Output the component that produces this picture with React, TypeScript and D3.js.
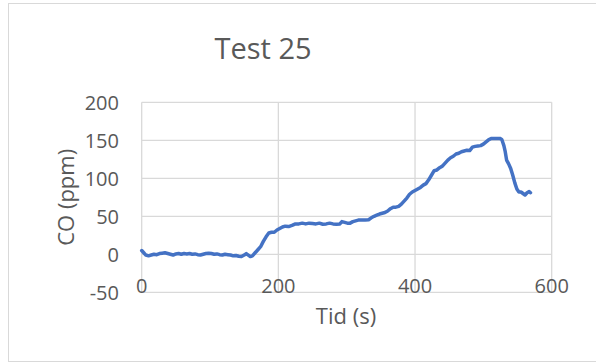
import React from "react";
import * as d3 from "d3";

// CO concentration over time, Test 25
const timeS: number[] = [
  0, 3, 6, 10, 14, 18, 22, 26, 30, 34, 38, 42, 46, 50, 54, 58, 62, 66, 70, 74,
  78, 82, 86, 90, 94, 98, 102, 106, 110, 114, 118, 122, 126, 130, 134, 138, 142,
  146, 150, 153, 156, 159, 162, 166, 170, 174, 178, 182, 186, 190, 194, 198, 202,
  206, 210, 215, 220, 225, 230, 235, 240, 245, 250, 255, 260, 265, 270, 275, 280,
  285, 290, 293, 297, 301, 305, 309, 313, 317, 322, 327, 332, 336, 340, 344, 348,
  352, 356, 360, 364, 368, 372, 376, 380, 384, 388, 392, 396, 400, 404, 408, 412,
  416, 420, 424, 428, 432, 436, 440, 444, 448, 452, 456, 460, 464, 468, 472, 476,
  480, 484, 488, 492, 496, 500, 504, 508, 512, 516, 520, 524, 527, 530, 532, 534,
  537, 540, 543, 546, 549, 552, 555, 558, 561, 564, 567, 569,
];

const coPpm: number[] = [
  5, 2, -1, -2, -1, 0, -0.5, 1, 1.5, 2, 1, 0, -1, 0.5, 1, 0, 1, 0.5, 1, 0,
  0.5, -0.5, -1, 0, 1, 1.5, 1, 0, 0.5, -0.5, -1, 0, -0.5, -1, -2, -1.5, -2.5,
  -3, -1, 1, -1, -3, -2, 2, 6, 10, 17, 23, 28, 29, 29, 32, 34,
  36, 37, 36.5, 38, 40, 40, 41, 40, 41, 40.5, 40, 41, 39.5, 40, 41, 40,
  39.5, 40, 43, 42, 41, 41, 43, 44, 45, 45, 45, 45.5, 48, 50, 51.5, 53,
  54, 55, 57, 60, 62, 62, 63, 66, 70, 74, 79, 82, 84, 86, 88, 91,
  93, 98, 104, 110, 111, 114, 116, 120, 124, 127, 129, 132, 133, 135, 136, 137,
  136.5, 141, 142, 142.5, 143, 145, 148, 151, 152.5, 152.5, 152.5, 152.5, 151, 143, 135, 124,
  119, 113, 104, 94, 86, 82, 82, 80, 78, 81, 82.5, 81,
];

const xTicks: number[] = [0, 200, 400, 600];
const yTicks: number[] = [-50, 0, 50, 100, 150, 200];

const W = 596;
const H = 363;
const plot = { left: 141.7, right: 551.7, top: 102.3, bottom: 292.3 };
const FONT = "'Open Sans', 'Liberation Sans', sans-serif";
const TEXT = "#595959";
const GRID = "#d9d9d9";

export default function App() {
  const x = d3.scaleLinear().domain([0, 600]).range([plot.left, plot.right]);
  const y = d3.scaleLinear().domain([-50, 200]).range([plot.bottom, plot.top]);

  const points: [number, number][] = timeS.map((t, i) => [t, coPpm[i]]);
  const line = d3
    .line<[number, number]>()
    .x((d) => x(d[0]))
    .y((d) => y(d[1]));

  return (
    <svg
      width={W}
      height={H}
      style={{ position: "absolute", left: 0, top: 0, background: "#fff" }}
    >
      <rect x={8.5} y={3.5} width={W} height={358} fill="#fff" stroke={GRID} />
      <text
        x={263}
        y={59}
        textAnchor="middle"
        fontFamily={FONT}
        fontSize={29}
        fill={TEXT}
      >
        Test 25
      </text>

      {/* grid */}
      {yTicks.map((v) => (
        <line
          key={"gy" + v}
          x1={plot.left}
          x2={plot.right}
          y1={y(v)}
          y2={y(v)}
          stroke={GRID}
          strokeWidth={1.3}
        />
      ))}
      {xTicks.map((v) => (
        <line
          key={"gx" + v}
          x1={x(v)}
          x2={x(v)}
          y1={plot.top}
          y2={plot.bottom}
          stroke={GRID}
          strokeWidth={1.3}
        />
      ))}

      {/* tick labels */}
      {yTicks.map((v) => (
        <text
          key={"ly" + v}
          x={119}
          y={y(v)}
          dy="0.36em"
          textAnchor="end"
          fontFamily={FONT}
          fontSize={20}
          fill={TEXT}
        >
          {v}
        </text>
      ))}
      {xTicks.map((v) => (
        <text
          key={"lx" + v}
          x={x(v)}
          y={286}
          dy="0.36em"
          textAnchor="middle"
          fontFamily={FONT}
          fontSize={20}
          fill={TEXT}
        >
          {v}
        </text>
      ))}

      <path
        d={line(points) ?? ""}
        fill="none"
        stroke="#4472C4"
        strokeWidth={3.5}
        strokeLinejoin="round"
        strokeLinecap="round"
      />

      {/* axis titles */}
      <text
        x={346}
        y={316}
        dy="0.36em"
        textAnchor="middle"
        fontFamily={FONT}
        fontSize={22}
        fill={TEXT}
      >
        Tid (s)
      </text>
      <text
        transform={`translate(66,${(plot.top + plot.bottom) / 2}) rotate(-90)`}
        dy="0.36em"
        textAnchor="middle"
        fontFamily={FONT}
        fontSize={22}
        fill={TEXT}
      >
        CO (ppm)
      </text>
    </svg>
  );
}
